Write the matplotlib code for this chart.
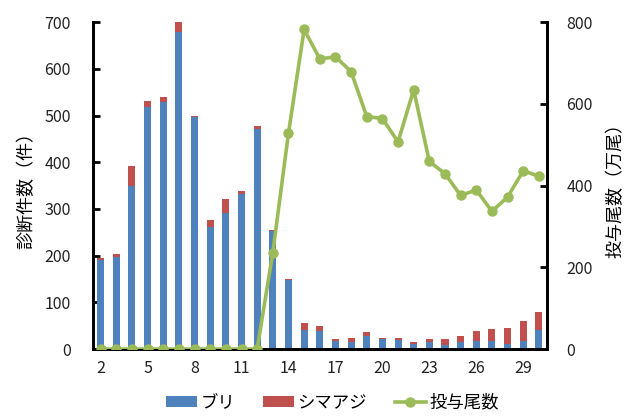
import matplotlib.pyplot as plt
import numpy as np

plt.rcParams['font.family'] = ['Noto Sans CJK JP', 'DejaVu Sans']

# data
days = list(range(2, 31))
buri = [190, 197, 348, 519, 528, 679, 497, 262, 292, 331, 471, 252,
        147, 41, 38, 18, 14, 28, 21, 20, 11, 14, 9, 16, 18, 18, 11, 18, 40]
shima = [4, 7, 44, 13, 12, 21, 2, 15, 29, 8, 6, 3,
         3, 14, 12, 4, 10, 8, 2, 3, 3, 7, 12, 12, 20, 24, 35, 43, 40]
toyo = [0, 0, 0, 0, 0, 0, 0, 0, 0, 0, 0, 236,
        528, 782, 710, 715, 679, 569, 564, 507, 634, 459, 429, 376, 389, 337, 372, 436, 423]
xticks = [2, 5, 8, 11, 14, 17, 20, 23, 26, 29]

blue = '#4F81BD'
red = '#C0504D'
green = '#9BBB59'

fig = plt.figure(figsize=(6.27, 4.17), dpi=100)
ax = fig.add_axes([0.148, 0.163, 0.724, 0.784])
ax2 = ax.twinx()

ax.bar(days, buri, width=0.45, color=blue, label='ブリ', zorder=2)
ax.bar(days, shima, width=0.45, bottom=buri, color=red, label='シマアジ', zorder=2)
ax2.plot(days, toyo, color=green, lw=2.6, marker='o', ms=6.5, label='投与尾数', zorder=3)

ax.set_xlim(1.5, 30.5)
ax.set_ylim(0, 700)
ax.set_yticks(np.arange(0, 701, 100))
ax2.set_ylim(0, 800)
ax2.set_yticks(np.arange(0, 801, 200))
ax.set_xticks(xticks)

for a in (ax, ax2):
    a.spines['top'].set_visible(False)
    for s in ('left', 'right', 'bottom'):
        a.spines[s].set_linewidth(2)
    a.tick_params(axis='y', direction='in', length=5, width=2, labelsize=11.5,
                  labelcolor='#222222', color='black')
ax.tick_params(axis='x', length=0, labelsize=11.5, pad=8, labelcolor='#222222')
ax.tick_params(axis='y', pad=16)
ax2.tick_params(axis='y', pad=14)

ax.set_ylabel('診断件数（件）', fontsize=13, labelpad=6)
ax2.set_ylabel('投与尾数（万尾）', fontsize=13, labelpad=10)

h1, l1 = ax.get_legend_handles_labels()
h2, l2 = ax2.get_legend_handles_labels()
fig.legend(h1 + h2, l1 + l2, loc='lower center', bbox_to_anchor=(0.53, -0.025), ncol=3,
           frameon=False, fontsize=12.5, handlelength=1.8, handleheight=0.55,
           columnspacing=1.6, handletextpad=0.2)

plt.savefig('out.png')
